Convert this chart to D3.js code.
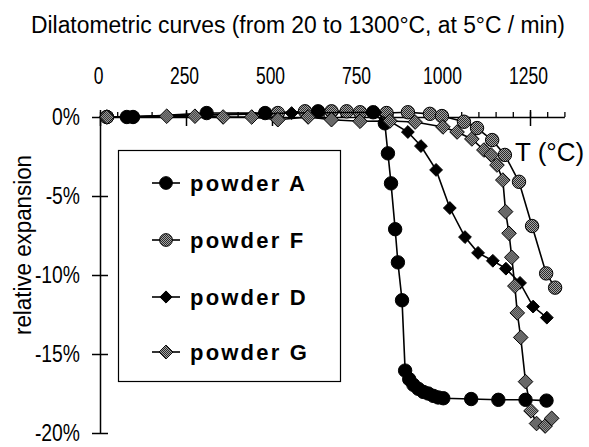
<!DOCTYPE html>
<html><head><meta charset="utf-8">
<script src="https://cdn.jsdelivr.net/npm/d3@7"></script>
<style>body{margin:0;background:#fff}svg{display:block}</style>
</head><body>
<svg id="c" width="589" height="447"></svg>
<script>
// ---- data (temperature °C, relative expansion %) ----
const titleText = "Dilatometric curves (from 20 to 1300°C, at 5°C / min)";
const tempTicks = [0, 250, 500, 750, 1000, 1250];
const pctTicks = [0, -5, -10, -15, -20];
const seriesNames = ["powder A", "powder F", "powder D", "powder G"];
const powderA = [[20,0],[78,0],[96,0],[310,0.25],[480,0.25],[634,0.36],[794,0.3],[828,-0.4],[837,-2.3],[846,-4.2],[858,-7.1],[866,-9.2],[878,-11.6],[887,-16.05],[899,-16.6],[911,-16.95],[925,-17.2],[940,-17.4],[954,-17.5],[969,-17.65],[983,-17.75],[998,-17.8],[1079,-17.85],[1158,-17.9],[1237,-17.9],[1298,-17.95]];
const powderF = [[20,0],[517,0.25],[596,0.36],[673,0.36],[717,0.36],[756,0.3],[833,0.25],[895,0.3],[959,0.2],[994,0.06],[1058,-0.3],[1096,-0.7],[1140,-1.46],[1177,-2.4],[1218,-4.1],[1256,-6.9],[1297,-9.9],[1323,-10.8]];
const powderD = [[20,0],[96,0],[557,0.25],[800,0.3],[895,-0.95],[933,-1.84],[977,-3.35],[1017,-5.76],[1061,-7.6],[1099,-8.6],[1142,-9.1],[1180,-9.6],[1221,-10.5],[1259,-12.0],[1299,-12.7]];
const powderG = [[20,0],[194,0.05],[276,0.05],[358,0],[441,0],[517,-0.17],[605,0],[673,-0.17],[756,-0.27],[843,-0.25],[916,-0.32],[997,-0.63],[1038,-0.95],[1081,-1.39],[1116,-2.09],[1137,-2.4],[1154,-3.04],[1171,-3.99],[1179,-5.99],[1189,-7.36],[1197,-8.88],[1206,-10.7],[1213,-12.4],[1223,-13.95],[1237,-16.75],[1253,-18.6],[1269,-19.4],[1294,-19.56],[1313,-19.07]];

const svg = d3.select("#c");
const FONT = "'Liberation Sans', Arial, sans-serif";

// dithered grey pattern
const defs = svg.append("defs");
const pat = defs.append("pattern").attr("id","dither").attr("patternUnits","userSpaceOnUse")
  .attr("width",2).attr("height",2);
pat.append("rect").attr("width",2).attr("height",2).attr("fill","#a6a6a6");
pat.append("rect").attr("width",1).attr("height",1).attr("fill","#2a2a2a");
pat.append("rect").attr("x",1).attr("y",1).attr("width",1).attr("height",1).attr("fill","#2a2a2a");

const x = d3.scaleLinear().domain([0, 1350]).range([100, 564.4]);
const y = d3.scaleLinear().domain([-20, 0]).range([433, 117]);

function narrow(sel, f) {
  sel.each(function(){ const w = this.getComputedTextLength(); d3.select(this).attr("textLength", w*f).attr("lengthAdjust","spacingAndGlyphs"); });
}

// title
svg.append("text").attr("x", 31).attr("y", 33).attr("font-family", FONT).attr("font-size", 23)
  .attr("textLength", 534).attr("lengthAdjust","spacingAndGlyphs").text(titleText);

// X axis (top labels, minor ticks above, major cross)
const gx = svg.append("g").attr("transform", `translate(0,${y(0)})`);
gx.call(d3.axisTop(x).tickValues(d3.range(0, 1351, 50)).tickSize(5).tickSizeOuter(0).tickFormat(""));
gx.selectAll("line").attr("stroke","#000").attr("stroke-width",1.3);
gx.select(".domain").attr("stroke","#000").attr("stroke-width",1.5);
const gx2 = svg.append("g").attr("transform", `translate(0,${y(0)})`);
gx2.call(d3.axisTop(x).tickValues(tempTicks).tickSize(7).tickPadding(26).tickSizeOuter(0).tickFormat(d3.format("d")));
gx2.select(".domain").remove();
gx2.selectAll("line").attr("stroke","#000").attr("stroke-width",1.5);
gx2.selectAll("text").attr("font-family", FONT).attr("font-size", 23).attr("fill","#000").attr("dx", -2);
narrow(gx2.selectAll("text"), 0.76);
const gx3 = svg.append("g").attr("transform", `translate(0,${y(0)})`);
gx3.call(d3.axisBottom(x).tickValues(tempTicks).tickSize(9).tickSizeOuter(0).tickFormat(""));
gx3.select(".domain").remove();
gx3.selectAll("line").attr("stroke","#000").attr("stroke-width",1.5);

// Y axis
const gy = svg.append("g").attr("transform", `translate(${x(0)},0)`);
gy.call(d3.axisLeft(y).tickValues(pctTicks).tickSize(8).tickPadding(12).tickSizeOuter(0).tickFormat(d => d + "%"));
gy.select(".domain").attr("stroke","#000").attr("stroke-width",1.5);
gy.selectAll("line").attr("stroke","#000").attr("stroke-width",1.5);
gy.selectAll("text").attr("font-family", FONT).attr("font-size", 23).attr("fill","#000");
narrow(gy.selectAll("text"), 0.84);
const gy2 = svg.append("g").attr("transform", `translate(${x(0)},0)`);
gy2.call(d3.axisRight(y).tickValues(pctTicks).tickSize(8).tickSizeOuter(0).tickFormat(""));
gy2.select(".domain").remove();
gy2.selectAll("line").attr("stroke","#000").attr("stroke-width",1.5);

// axis titles
svg.append("text").attr("transform","translate(31,245) rotate(-90)").attr("text-anchor","middle")
  .attr("font-family", FONT).attr("font-size", 23).attr("textLength", 180).attr("lengthAdjust","spacingAndGlyphs")
  .text("relative expansion");
svg.append("text").attr("x", 515).attr("y", 161).attr("font-family", FONT).attr("font-size", 26)
  .text("T (°C)");

// series
const series = [
  {name: seriesNames[0], data: powderA, shape: "circle", fill: "#000"},
  {name: seriesNames[1], data: powderF, shape: "circle", fill: "url(#dither)"},
  {name: seriesNames[2], data: powderD, shape: "diamond", fill: "#000"},
  {name: seriesNames[3], data: powderG, shape: "diamond", fill: "url(#dither)"}
];
const line = d3.line().x(d => x(d[0])).y(d => y(d[1]));
const diamond = (r) => `M0,${-r}L${r},0L0,${r}L${-r},0Z`;
function marker(g, s, px, py, k = 1) {
  if (s.shape === "circle") {
    g.append("circle").attr("cx", px).attr("cy", py).attr("r", 6.7*k).attr("fill", s.fill).attr("stroke","#000").attr("stroke-width",1);
  } else {
    const r = (s.fill === "#000" ? 6.4 : 7.3)*k;
    g.append("path").attr("transform",`translate(${px},${py})`).attr("d", diamond(r)).attr("fill", s.fill).attr("stroke","#000").attr("stroke-width",1);
  }
}
series.forEach(s => {
  const g = svg.append("g");
  g.append("path").attr("d", line(s.data)).attr("fill","none").attr("stroke","#000").attr("stroke-width",1.6);
  s.data.forEach(d => marker(g, s, x(d[0]), y(d[1])));
});

// legend
const lg = svg.append("g");
lg.append("rect").attr("x",118.5).attr("y",150.5).attr("width",222).attr("height",231).attr("fill","#fff").attr("stroke","#000").attr("stroke-width",1.2);
const rowsY = [183, 240, 297, 352];
series.forEach((s, i) => {
  lg.append("line").attr("x1",152).attr("x2",180).attr("y1",rowsY[i]).attr("y2",rowsY[i]).attr("stroke","#000").attr("stroke-width",1.6);
  marker(lg, s, 166, rowsY[i], 0.95);
  lg.append("text").attr("x",190).attr("y",rowsY[i]+8).attr("font-family", FONT).attr("font-weight","bold")
    .attr("font-size",22).attr("letter-spacing",2.2).text(s.name);
});
</script>
</body></html>
